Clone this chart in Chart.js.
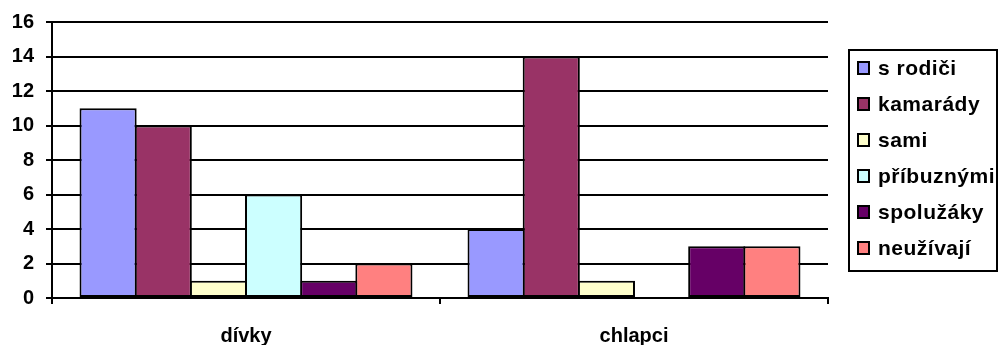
<!DOCTYPE html>
<html>
<head>
<meta charset="utf-8">
<script src="https://cdn.jsdelivr.net/npm/chart.js@4"></script>
<style>
  html, body { margin: 0; padding: 0; background: #fff; }
  #wrap { width: 1000px; height: 345px; }
</style>
</head>
<body>
<div id="wrap"><canvas id="myChart" width="1000" height="345"></canvas></div>
<script>
var kategorie = ['dívky', 'chlapci'];
var skupiny = ['s rodiči', 'kamarády', 'sami', 'příbuznými', 'spolužáky', 'neužívají'];
var barvy = ['#9999FF', '#993366', '#FFFFCC', '#CCFFFF', '#660066', '#FF8080'];
var sRodici = [11, 4];
var kamarady = [10, 14];
var sami = [1, 1];
var pribuznymi = [6, 0];
var spoluzaky = [1, 3];
var neuzivaji = [2, 3];
var hodnoty = [sRodici, kamarady, sami, pribuznymi, spoluzaky, neuzivaji];
var osaY = [0, 2, 4, 6, 8, 10, 12, 14, 16];

var pismo = 'Liberation Sans, Arial, sans-serif';

// legenda v rámečku vpravo
var legendaBox = {
  id: 'legendaBox',
  afterDraw: function (chart) {
    var ctx = chart.ctx;
    var x = 849, y = 50, w = 148, h = 221;
    ctx.save();
    ctx.lineWidth = 2;
    ctx.strokeStyle = '#000';
    ctx.strokeRect(x, y, w, h);
    ctx.font = 'bold 21px ' + pismo;
    ctx.letterSpacing = '0.5px';
    ctx.textBaseline = 'middle';
    chart.data.datasets.forEach(function (ds, i) {
      var cy = 68 + i * 36;
      ctx.fillStyle = ds.backgroundColor;
      ctx.fillRect(858, cy - 6, 11, 12);
      ctx.strokeRect(858, cy - 6, 11, 12);
      ctx.fillStyle = '#000';
      ctx.fillText(ds.label, 878, cy + 1);
    });
    ctx.restore();
  }
};

var ctx = document.getElementById('myChart').getContext('2d');
var myChart = new Chart(ctx, {
  type: 'bar',
  data: {
    labels: kategorie,
    datasets: skupiny.map(function (nazev, i) {
      return {
        label: nazev,
        data: hodnoty[i],
        backgroundColor: barvy[i],
        borderColor: '#000',
        borderWidth: 2,
        borderSkipped: false,
        // sloupce se o okraj překrývají, aby čára mezi nimi byla jen jedna
        categoryPercentage: 0.853,
        barPercentage: 1.036
      };
    })
  },
  options: {
    responsive: false,
    animation: false,
    layout: { padding: { top: 22, right: 172, left: 0, bottom: 0 } },
    plugins: {
      legend: { display: false },
      tooltip: { enabled: false }
    },
    scales: {
      x: {
        afterFit: function (scale) { scale.height = 47; },
        grid: {
          offset: true,
          drawOnChartArea: false,
          drawTicks: true,
          tickLength: 6,
          color: '#000',
          lineWidth: 2
        },
        border: { color: '#000', width: 2 },
        ticks: {
          color: '#000',
          padding: 20,
          font: { family: pismo, size: 20, weight: 'bold' }
        }
      },
      y: {
        min: 0,
        max: 16,
        afterFit: function (scale) { scale.width = 52; },
        afterBuildTicks: function (scale) {
          scale.ticks = osaY.map(function (v) { return { value: v }; });
        },
        grid: {
          color: '#000',
          lineWidth: 2,
          drawTicks: true,
          tickLength: 6
        },
        border: { color: '#000', width: 2 },
        ticks: {
          color: '#000',
          padding: 12,
          font: { family: pismo, size: 20, weight: 'bold', lineHeight: 0.9 }
        }
      }
    }
  },
  plugins: [legendaBox]
});
</script>
</body>
</html>
